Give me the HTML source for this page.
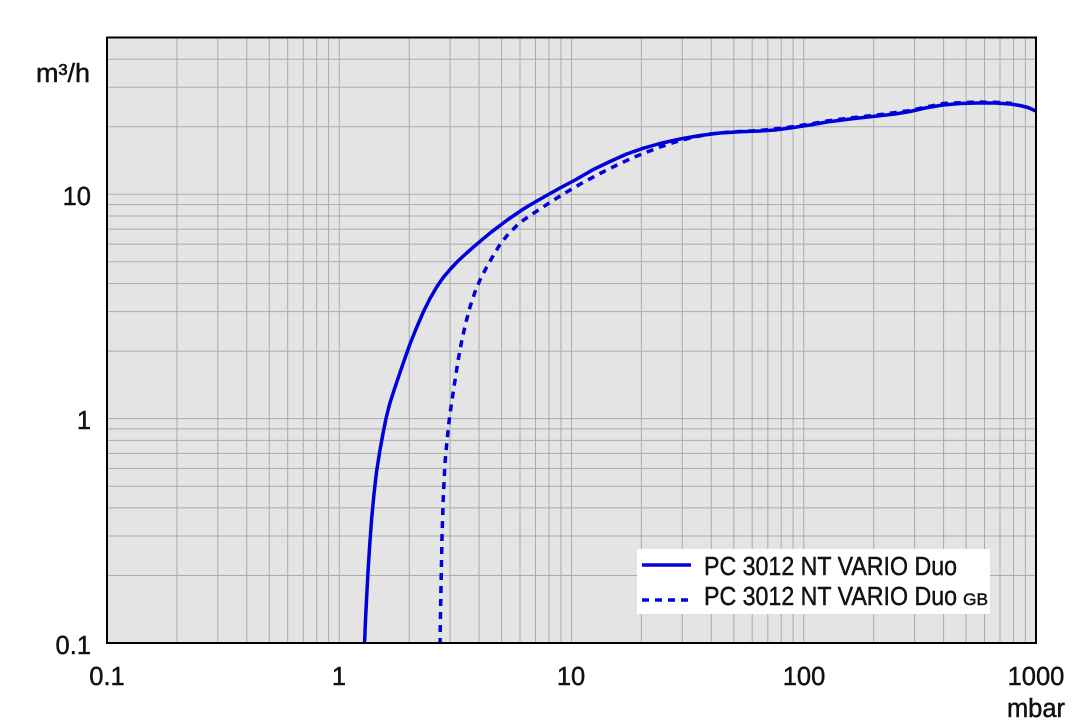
<!DOCTYPE html>
<html><head><meta charset="utf-8"><style>
html,body{margin:0;padding:0;background:#fff;}
svg{display:block;}
text{font-family:"Liberation Sans",sans-serif;fill:#111;stroke:#111;stroke-width:0.45;}
</style></head><body>
<svg width="1080" height="721" viewBox="0 0 1080 721" xmlns="http://www.w3.org/2000/svg">
<rect x="107" y="37.5" width="929" height="605.5" fill="#e4e4e4"/>
<g stroke="#ababab" stroke-width="1" fill="none">
<path d="M176.9 38V643M217.8 38V643M246.8 38V643M269.3 38V643M287.7 38V643M303.3 38V643M316.7 38V643M328.6 38V643M339.25 38V643
M409.2 38V643M450.1 38V643M479.1 38V643M501.6 38V643M520 38V643M535.5 38V643M549 38V643M560.9 38V643M571.5 38V643
M641.4 38V643M682.3 38V643M711.3 38V643M733.8 38V643M752.2 38V643M767.8 38V643M781.2 38V643M793.1 38V643M803.75 38V643
M873.7 38V643M914.6 38V643M943.6 38V643M966.1 38V643M984.5 38V643M1000 38V643M1013.5 38V643M1025.4 38V643"/>
<path d="M107 575.5H1036M107 536H1036M107 507.9H1036M107 486.2H1036M107 468.4H1036M107 453.4H1036M107 440.4H1036M107 428.9H1036M107 418.65H1036
M107 351.1H1036M107 311.6H1036M107 283.6H1036M107 261.8H1036M107 244.1H1036M107 229.1H1036M107 216H1036M107 204.6H1036M107 194.3H1036
M107 126.8H1036M107 87.3H1036M107 59.2H1036"/>
</g>
<!-- legend -->
<rect x="637" y="549" width="353" height="65" fill="#ffffff"/>
<line x1="642" y1="565" x2="691" y2="565" stroke="#0000dd" stroke-width="3.5"/>
<line x1="642" y1="600" x2="691" y2="600" stroke="#0000dd" stroke-width="3.5" stroke-dasharray="7 6"/>
<text x="704" y="575" font-size="25.5" textLength="253" lengthAdjust="spacingAndGlyphs">PC 3012 NT VARIO Duo</text>
<text x="704" y="605" font-size="25.5" textLength="253" lengthAdjust="spacingAndGlyphs">PC 3012 NT VARIO Duo</text>
<text x="963" y="605" font-size="17" textLength="25" lengthAdjust="spacingAndGlyphs">GB</text>
<!-- curves -->
<clipPath id="c"><rect x="107" y="37.5" width="929" height="605.5"/></clipPath>
<g clip-path="url(#c)" fill="none" stroke="#0000dd" stroke-width="3.5" stroke-linejoin="round">
<polyline points="364.5,645 365.5,620 366.5,600 368,572 369.5,548 371.7,518 374,494 376.5,472 380,450 383,433.5 386,418.5 389.5,404.5 393.3,392.5 399,375.5 405,358 410,344 416,329 423.3,312 430,298.5 436.7,287 443,277.8 450,269.5 458,261 466.7,253 475,245.7 483.3,238.7 491,232.3 500,225.5 508,219.5 516.7,213.5 523,209.3 530,205 543,197.5 560,188 576,179.5 593.3,169.5 610,161.5 626.7,154 643,148.3 660,143.5 680,139 700,135.5 720,133 740,131.8 760,131 775,130 790,128 810,125 827,122 850,119 877,116 895,114 910,111.5 925,108 943,105 960,103.5 977,103 995,103 1010,104 1020,105.5 1028,107.5 1038,112"/>
<polyline stroke-dasharray="7 6" points="440,645 440.5,615 441,587 442,537 443.3,497 445,463 447,441 449.3,419 452,400 455,380.5 458,361 461.5,342 465.5,324 470,307 475,292 480,280 486.7,267 493,256 500,244.5 508.3,234 520,222.5 530,215.5 540,209 553,200.5 566.7,192 583,182.5 600,173.5 617,165 633.3,157.5 647,152 660,147 677,141.5 693,137.3 710,134 730,132 760,130.5 787,127.5 810,124 827,121 850,118 877,115 910,110.5 943,103.5 977,102 1003,102.5 1012,103.5"/>
</g>
<rect x="107" y="37.5" width="929" height="605.5" fill="none" stroke="#000" stroke-width="2"/>
<!-- y labels -->
<text x="36" y="82" font-size="25.5" textLength="54" lengthAdjust="spacingAndGlyphs">m³/h</text>
<text x="91" y="205" font-size="25.5" text-anchor="end">10</text>
<text x="91" y="429" font-size="25.5" text-anchor="end">1</text>
<text x="91" y="654" font-size="25.5" text-anchor="end">0.1</text>
<!-- x labels -->
<text x="107" y="685" font-size="25.5" text-anchor="middle">0.1</text>
<text x="339" y="685" font-size="25.5" text-anchor="middle">1</text>
<text x="571" y="685" font-size="25.5" text-anchor="middle">10</text>
<text x="804" y="685" font-size="25.5" text-anchor="middle">100</text>
<text x="1036" y="685" font-size="25.5" text-anchor="middle">1000</text>
<text x="1036" y="717" font-size="25.5" text-anchor="middle">mbar</text>
</svg>
</body></html>
